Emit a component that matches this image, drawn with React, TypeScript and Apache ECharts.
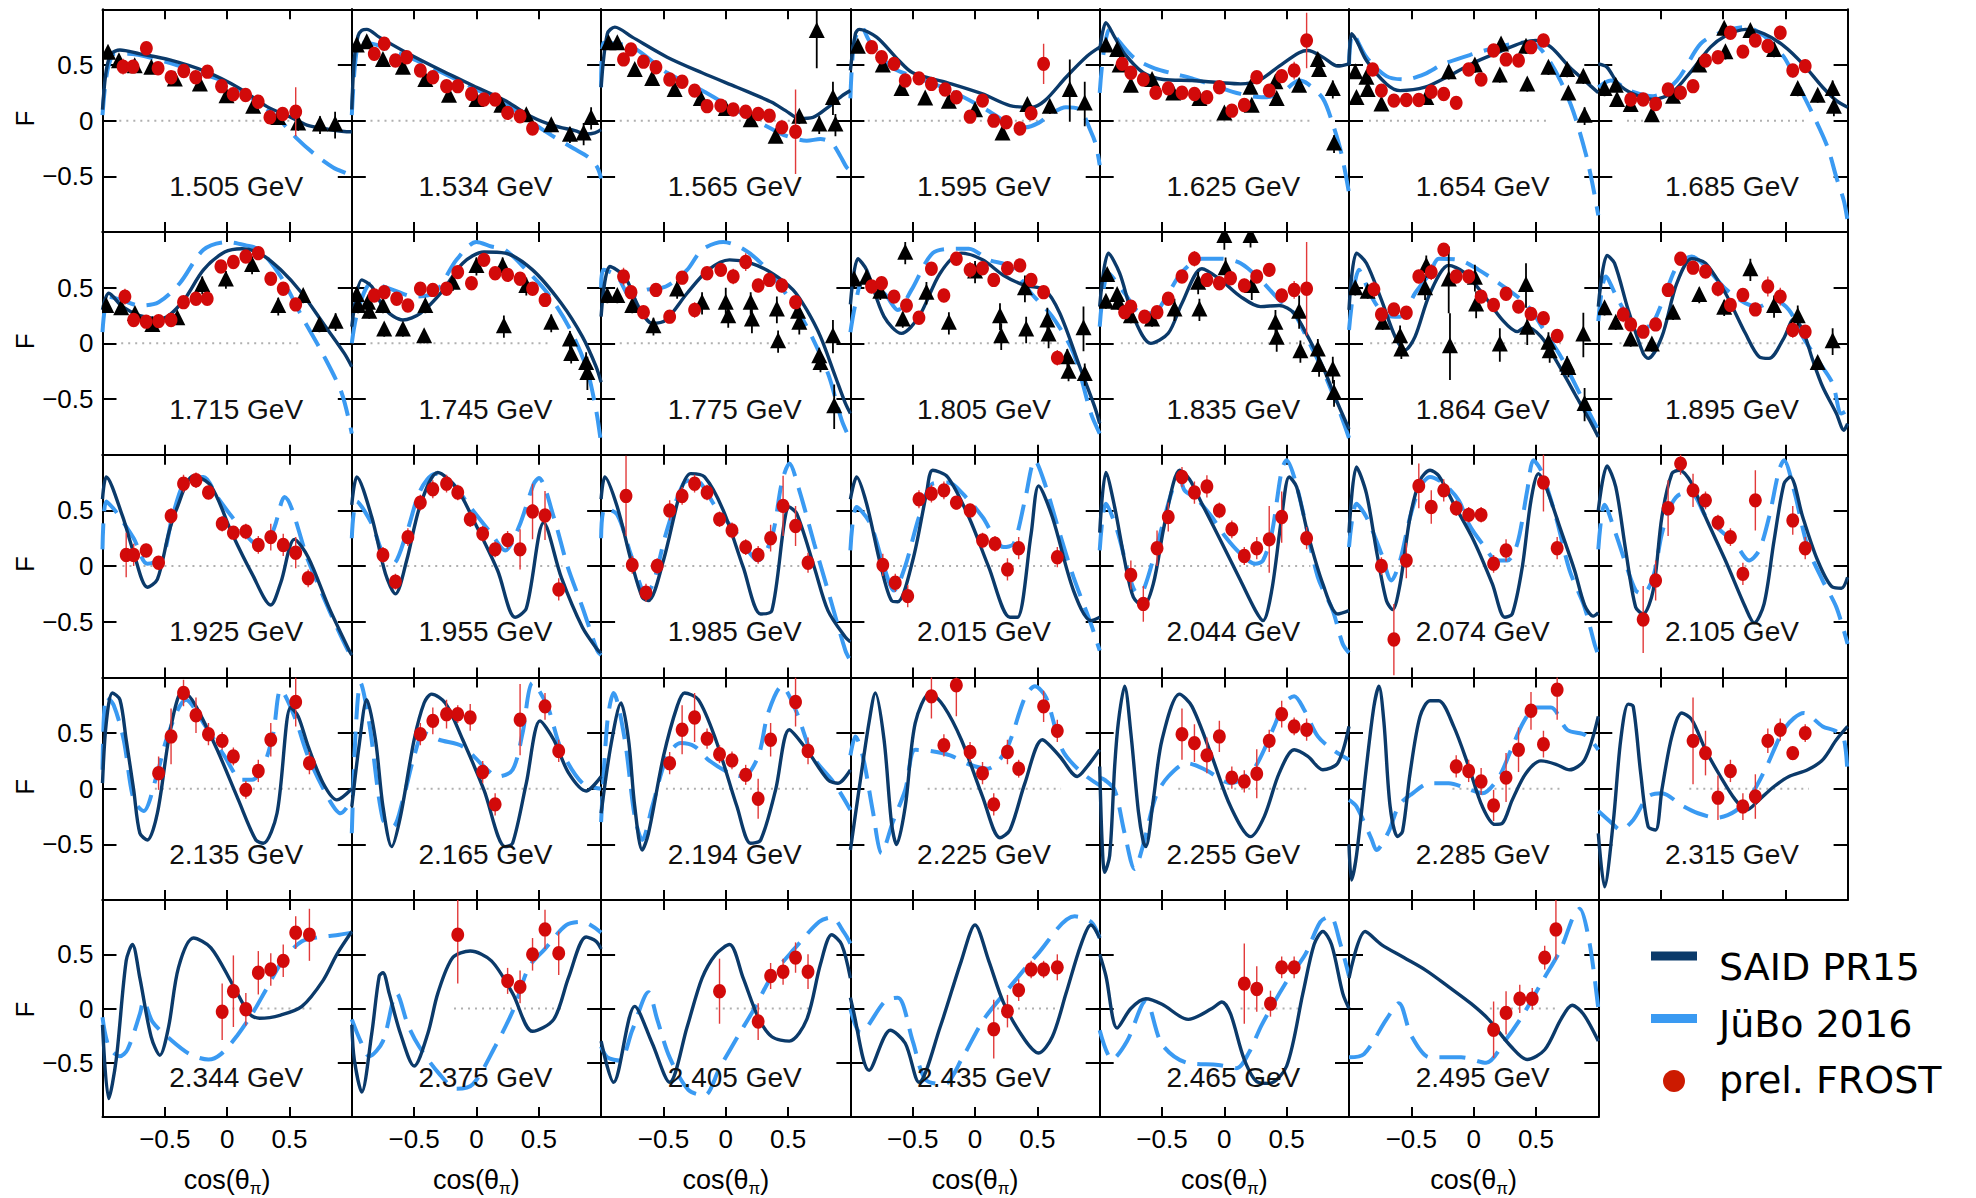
import React, { useEffect, useRef } from "react";
import * as echarts from "echarts";

// ---------------- DATA ----------------
const ENERGIES = [
  "1.505", "1.534", "1.565", "1.595", "1.625", "1.654", "1.685",
  "1.715", "1.745", "1.775", "1.805", "1.835", "1.864", "1.895",
  "1.925", "1.955", "1.985", "2.015", "2.044", "2.074", "2.105",
  "2.135", "2.165", "2.194", "2.225", "2.255", "2.285", "2.315",
  "2.344", "2.375", "2.405", "2.435", "2.465", "2.495",
];

// SAID PR15 curves [cos, F]
const SAID: number[][][] = [
  [[-1,0.1],[-0.97,0.45],[-0.93,0.6],[-0.86,0.635],[-0.7,0.6],[-0.46,0.545],[-0.17,0.44],[0.1,0.29],[0.32,0.126],[0.5,0.036],[0.64,-0.04],[0.77,-0.07],[0.99,-0.1],[1,-0.1]],
  [[-1,0.1],[-0.98,0.55],[-0.95,0.76],[-0.92,0.81],[-0.88,0.82],[-0.78,0.75],[-0.56,0.61],[-0.28,0.45],[0,0.3],[0.23,0.18],[0.45,0.03],[0.62,-0.045],[0.79,-0.09],[0.88,-0.12],[0.95,-0.11],[1,-0.08]],
  [[-1,0.3],[-0.95,0.78],[-0.89,0.84],[-0.75,0.75],[-0.47,0.57],[-0.19,0.43],[0.09,0.3],[0.26,0.22],[0.37,0.165],[0.48,0.09],[0.59,0.02],[0.7,0.03],[0.82,0.12],[0.93,0.22],[1,0.27]],
  [[-1,0.45],[-0.96,0.78],[-0.93,0.82],[-0.79,0.75],[-0.62,0.55],[-0.5,0.43],[-0.22,0.34],[0.06,0.24],[0.28,0.135],[0.45,0.12],[0.56,0.18],[0.73,0.39],[0.9,0.58],[1,0.66]],
  [[-1,0.63],[-0.95,0.88],[-0.88,0.75],[-0.8,0.6],[-0.65,0.43],[-0.49,0.37],[-0.26,0.36],[-0.03,0.34],[0.13,0.33],[0.29,0.37],[0.44,0.49],[0.6,0.61],[0.67,0.63],[0.79,0.57],[0.91,0.49],[1,0.51]],
  [[-1,0.5],[-0.98,0.78],[-0.94,0.72],[-0.86,0.54],[-0.7,0.33],[-0.59,0.27],[-0.39,0.3],[-0.2,0.4],[0,0.52],[0.19,0.61],[0.39,0.7],[0.5,0.72],[0.62,0.66],[0.77,0.48],[0.89,0.36],[1,0.25]],
  [[-1,0.51],[-0.93,0.48],[-0.84,0.33],[-0.72,0.24],[-0.56,0.19],[-0.41,0.25],[-0.25,0.45],[-0.1,0.66],[0.02,0.76],[0.18,0.82],[0.33,0.78],[0.49,0.67],[0.64,0.51],[0.8,0.3],[0.91,0.18],[1,0.12]],
  [[-1,0.3],[-0.95,0.45],[-0.84,0.33],[-0.7,0.25],[-0.53,0.22],[-0.36,0.37],[-0.19,0.66],[-0.02,0.82],[0.12,0.85],[0.26,0.81],[0.43,0.66],[0.6,0.45],[0.77,0.18],[0.94,-0.09],[1,-0.21]],
  [[-1,0.15],[-0.92,0.57],[-0.84,0.51],[-0.73,0.3],[-0.59,0.21],[-0.45,0.27],[-0.28,0.46],[-0.11,0.72],[0.06,0.82],[0.23,0.81],[0.45,0.66],[0.68,0.36],[0.85,0.06],[0.96,-0.21],[1,-0.35]],
  [[-1,0.24],[-0.93,0.69],[-0.81,0.6],[-0.7,0.33],[-0.59,0.18],[-0.48,0.21],[-0.31,0.45],[-0.14,0.66],[0.03,0.75],[0.2,0.72],[0.37,0.63],[0.54,0.48],[0.65,0.3],[0.76,0.06],[0.88,-0.3],[0.96,-0.54],[1,-0.63]],
  [[-1,0.35],[-0.94,0.76],[-0.87,0.66],[-0.73,0.24],[-0.59,0.09],[-0.45,0.24],[-0.28,0.63],[-0.11,0.81],[0.06,0.75],[0.23,0.61],[0.4,0.52],[0.56,0.48],[0.68,0.27],[0.84,-0.21],[0.96,-0.57],[1,-0.72]],
  [[-1,0.33],[-0.93,0.81],[-0.84,0.63],[-0.73,0.24],[-0.59,0.0],[-0.45,0.09],[-0.34,0.36],[-0.18,0.67],[-0.03,0.57],[0.13,0.42],[0.29,0.33],[0.44,0.34],[0.56,0.27],[0.67,0.06],[0.79,-0.21],[0.91,-0.54],[1,-0.77]],
  [[-1,0.3],[-0.94,0.81],[-0.86,0.72],[-0.74,0.39],[-0.63,0.06],[-0.55,-0.06],[-0.47,0.06],[-0.35,0.45],[-0.2,0.7],[-0.08,0.64],[0.07,0.45],[0.23,0.21],[0.35,0.105],[0.42,0.15],[0.54,0.06],[0.66,-0.15],[0.81,-0.45],[0.93,-0.69],[1,-0.84]],
  [[-1,0.33],[-0.93,0.79],[-0.87,0.72],[-0.76,0.3],[-0.64,-0.09],[-0.6,-0.135],[-0.49,0.06],[-0.37,0.54],[-0.25,0.76],[-0.14,0.72],[0.02,0.45],[0.18,0.09],[0.29,-0.12],[0.37,-0.135],[0.49,0.05],[0.57,0.22],[0.64,0.12],[0.72,-0.15],[0.8,-0.39],[0.91,-0.63],[0.97,-0.78],[1,-0.72]],
  [[-1,0.6],[-0.97,0.8],[-0.84,0.45],[-0.75,0.12],[-0.64,-0.19],[-0.56,-0.12],[-0.47,0.29],[-0.41,0.5],[-0.27,0.81],[-0.13,0.72],[0.04,0.29],[0.2,-0.07],[0.35,-0.35],[0.43,-0.15],[0.54,0.24],[0.65,0.08],[0.82,-0.38],[0.98,-0.76],[1,-0.8]],
  [[-1,0.55],[-0.96,0.8],[-0.84,0.44],[-0.73,-0.07],[-0.65,-0.25],[-0.56,0.05],[-0.45,0.55],[-0.31,0.84],[-0.16,0.7],[0,0.36],[0.17,-0.04],[0.31,-0.46],[0.4,-0.38],[0.54,0.39],[0.68,-0.1],[0.85,-0.55],[0.97,-0.75],[1,-0.78]],
  [[-1,0.6],[-0.97,0.8],[-0.87,0.53],[-0.76,0.05],[-0.67,-0.28],[-0.62,-0.31],[-0.5,0.05],[-0.36,0.68],[-0.28,0.83],[-0.17,0.8],[-0.02,0.5],[0.14,-0.01],[0.28,-0.43],[0.37,-0.4],[0.51,0.53],[0.57,0.47],[0.71,-0.01],[0.82,-0.4],[0.96,-0.64],[1,-0.68]],
  [[-1,0.6],[-0.95,0.8],[-0.87,0.56],[-0.76,0.02],[-0.67,-0.31],[-0.62,-0.32],[-0.5,0.05],[-0.39,0.65],[-0.34,0.86],[-0.22,0.8],[-0.05,0.44],[0.11,-0.01],[0.28,-0.46],[0.34,-0.46],[0.45,0.29],[0.51,0.72],[0.62,0.44],[0.79,-0.22],[0.93,-0.49],[1,-0.46]],
  [[-1,0.3],[-0.95,0.84],[-0.88,0.53],[-0.8,0.05],[-0.73,-0.28],[-0.65,-0.36],[-0.57,-0.16],[-0.49,0.32],[-0.41,0.74],[-0.36,0.86],[-0.28,0.78],[-0.18,0.56],[-0.03,0.23],[0.13,-0.13],[0.25,-0.4],[0.31,-0.49],[0.38,-0.22],[0.46,0.44],[0.52,0.8],[0.58,0.71],[0.67,0.29],[0.79,-0.16],[0.91,-0.43],[1,-0.4]],
  [[-1,0.3],[-0.94,0.89],[-0.86,0.65],[-0.78,0.14],[-0.7,-0.31],[-0.65,-0.39],[-0.59,-0.16],[-0.51,0.44],[-0.43,0.77],[-0.35,0.86],[-0.28,0.81],[-0.16,0.56],[0,0.23],[0.15,-0.16],[0.25,-0.46],[0.31,-0.43],[0.39,-0.01],[0.46,0.59],[0.52,0.83],[0.58,0.71],[0.7,0.32],[0.81,-0.04],[0.89,-0.35],[0.96,-0.45],[1,-0.42]],
  [[-1,0.5],[-0.93,0.9],[-0.86,0.71],[-0.78,0.14],[-0.7,-0.37],[-0.64,-0.43],[-0.56,-0.22],[-0.49,0.44],[-0.41,0.83],[-0.35,0.86],[-0.25,0.74],[-0.14,0.44],[0.02,0.05],[0.18,-0.37],[0.25,-0.51],[0.33,-0.34],[0.41,0.23],[0.49,0.74],[0.54,0.8],[0.64,0.44],[0.76,0.05],[0.88,-0.19],[0.95,-0.2],[1,-0.1]],
  [[-1,0.05],[-0.97,0.59],[-0.92,0.86],[-0.86,0.8],[-0.81,0.44],[-0.75,-0.01],[-0.7,-0.4],[-0.64,-0.46],[-0.56,-0.22],[-0.47,0.44],[-0.39,0.83],[-0.33,0.85],[-0.25,0.74],[-0.08,0.35],[0.09,-0.1],[0.23,-0.46],[0.29,-0.49],[0.4,-0.22],[0.51,0.73],[0.57,0.65],[0.65,0.38],[0.77,0.05],[0.88,-0.1],[1,0.0]],
  [[-1,-0.16],[-0.94,0.4],[-0.88,0.8],[-0.81,0.44],[-0.75,-0.16],[-0.68,-0.52],[-0.61,-0.25],[-0.5,0.44],[-0.42,0.77],[-0.36,0.85],[-0.25,0.77],[-0.11,0.44],[0.06,-0.01],[0.23,-0.52],[0.29,-0.49],[0.4,0.05],[0.51,0.61],[0.62,0.44],[0.74,0.14],[0.88,-0.02],[1,0.11]],
  [[-1,-0.22],[-0.92,0.4],[-0.84,0.77],[-0.78,0.44],[-0.73,-0.16],[-0.67,-0.55],[-0.62,-0.4],[-0.5,0.29],[-0.39,0.74],[-0.33,0.86],[-0.22,0.8],[-0.08,0.44],[0.09,-0.16],[0.2,-0.49],[0.28,-0.46],[0.4,-0.01],[0.51,0.53],[0.65,0.35],[0.82,0.08],[0.9,0.05],[1,0.17]],
  [[-1,-0.55],[-0.93,0.0],[-0.85,0.6],[-0.8,0.86],[-0.73,0.44],[-0.67,-0.31],[-0.63,-0.5],[-0.56,-0.16],[-0.48,0.59],[-0.36,0.86],[-0.25,0.74],[-0.11,0.44],[0.06,-0.07],[0.2,-0.44],[0.28,-0.37],[0.4,0.05],[0.54,0.44],[0.68,0.29],[0.82,0.11],[0.9,0.2],[1,0.35]],
  [[-1,0.2],[-0.98,-0.5],[-0.96,-0.75],[-0.92,-0.6],[-0.88,0.2],[-0.85,0.6],[-0.8,0.92],[-0.75,0.5],[-0.69,-0.2],[-0.65,-0.48],[-0.63,-0.52],[-0.57,-0.1],[-0.5,0.44],[-0.36,0.85],[-0.26,0.74],[-0.1,0.29],[0.05,-0.16],[0.21,-0.43],[0.32,-0.25],[0.44,0.14],[0.56,0.35],[0.67,0.29],[0.79,0.17],[0.91,0.23],[1,0.56]],
  [[-1,-0.5],[-0.98,-0.82],[-0.94,-0.6],[-0.86,0.2],[-0.8,0.74],[-0.76,0.92],[-0.72,0.6],[-0.67,-0.16],[-0.61,-0.43],[-0.57,-0.38],[-0.51,0.14],[-0.43,0.65],[-0.35,0.79],[-0.28,0.79],[-0.16,0.56],[-0.04,0.2],[0.07,-0.16],[0.17,-0.32],[0.23,-0.31],[0.31,-0.1],[0.42,0.14],[0.54,0.25],[0.66,0.22],[0.77,0.17],[0.89,0.26],[1,0.65]],
  [[-1,-0.4],[-0.95,-0.88],[-0.88,-0.3],[-0.82,0.44],[-0.76,0.76],[-0.72,0.74],[-0.66,0.14],[-0.6,-0.34],[-0.54,-0.37],[-0.49,-0.01],[-0.41,0.47],[-0.33,0.68],[-0.25,0.62],[-0.14,0.35],[-0.02,0.11],[0.1,-0.1],[0.19,-0.19],[0.29,-0.1],[0.41,0.02],[0.53,0.11],[0.68,0.17],[0.8,0.26],[0.91,0.44],[1,0.56]],
  [[-1,-0.15],[-0.95,-0.83],[-0.89,-0.47],[-0.81,0.44],[-0.76,0.59],[-0.7,0.28],[-0.61,-0.26],[-0.54,-0.43],[-0.47,-0.17],[-0.39,0.38],[-0.27,0.65],[-0.13,0.56],[0.04,0.23],[0.18,-0.05],[0.26,-0.09],[0.43,-0.06],[0.6,0.02],[0.77,0.26],[0.88,0.5],[1,0.71]],
  [[-1,-0.15],[-0.98,-0.47],[-0.92,-0.77],[-0.84,-0.23],[-0.78,0.3],[-0.75,0.33],[-0.7,0.14],[-0.61,-0.23],[-0.5,-0.53],[-0.39,-0.23],[-0.31,0.14],[-0.19,0.47],[-0.05,0.53],[0.12,0.44],[0.29,0.14],[0.45,-0.21],[0.62,-0.1],[0.74,0.29],[0.88,0.66],[0.96,0.62],[1,0.55]],
  [[-1,-0.3],[-0.9,-0.68],[-0.73,0.02],[-0.59,-0.32],[-0.45,-0.68],[-0.31,-0.17],[-0.19,0.28],[-0.08,0.5],[0.03,0.59],[0.14,0.28],[0.26,-0.08],[0.37,-0.26],[0.51,-0.3],[0.65,-0.1],[0.76,0.41],[0.85,0.68],[0.93,0.59],[1,0.28]],
  [[-1,0.1],[-0.98,0.0],[-0.85,-0.57],[-0.68,-0.2],[-0.56,-0.32],[-0.45,-0.68],[-0.28,-0.17],[-0.11,0.44],[0,0.77],[0.11,0.44],[0.23,0.05],[0.4,-0.29],[0.51,-0.41],[0.62,-0.26],[0.73,0.14],[0.85,0.59],[0.93,0.77],[1,0.65]],
  [[-1,0.5],[-0.95,0.3],[-0.86,-0.18],[-0.75,0.0],[-0.63,0.09],[-0.5,0.04],[-0.29,-0.1],[-0.1,0.0],[-0.02,0.06],[0.05,-0.05],[0.16,-0.47],[0.27,-0.68],[0.36,-0.69],[0.5,-0.53],[0.63,0.14],[0.72,0.59],[0.79,0.71],[0.86,0.59],[0.95,0.14],[1,0.0]],
  [[-1,0.28],[-0.87,0.71],[-0.74,0.59],[-0.56,0.47],[-0.38,0.35],[-0.2,0.2],[-0.02,0.045],[0.12,-0.1],[0.3,-0.35],[0.43,-0.47],[0.57,-0.38],[0.7,-0.1],[0.79,0.03],[0.88,-0.05],[1,-0.3]],
];

// JüBo 2016 curves [cos, F]
const JUBO: number[][][] = [
  [[-1,0.05],[-0.98,0.3],[-0.95,0.5],[-0.9,0.6],[-0.8,0.6],[-0.5,0.53],[-0.2,0.42],[0,0.34],[0.2,0.2],[0.4,0.03],[0.55,-0.15],[0.7,-0.3],[0.85,-0.42],[0.97,-0.48],[1,-0.5]],
  [[-1,0.05],[-0.97,0.55],[-0.93,0.7],[-0.8,0.68],[-0.5,0.55],[0,0.28],[0.3,0.1],[0.45,-0.02],[0.6,-0.13],[0.78,-0.25],[0.9,-0.33],[0.97,-0.42],[1,-0.52]],
  [[-1,0.3],[-0.98,0.7],[-0.75,0.66],[-0.47,0.43],[-0.19,0.27],[0.09,0.09],[0.37,-0.075],[0.48,-0.135],[0.65,-0.18],[0.76,-0.165],[0.85,-0.2],[0.92,-0.32],[0.97,-0.42],[1,-0.45]],
  [[-1,0.2],[-0.97,0.7],[-0.91,0.84],[-0.85,0.72],[-0.67,0.48],[-0.5,0.4],[-0.22,0.28],[0.06,0.12],[0.28,-0.03],[0.4,-0.06],[0.51,-0.02],[0.62,0.07],[0.73,0.12],[0.84,0.1],[0.93,-0.1],[0.97,-0.22],[1,-0.4]],
  [[-1,0.25],[-0.97,0.6],[-0.92,0.82],[-0.85,0.72],[-0.72,0.56],[-0.56,0.47],[-0.4,0.42],[-0.26,0.38],[-0.1,0.32],[0.13,0.24],[0.3,0.21],[0.45,0.24],[0.6,0.36],[0.67,0.33],[0.79,0.2],[0.87,-0.03],[0.94,-0.3],[1,-0.65]],
  [[-1,0.5],[-0.97,0.78],[-0.86,0.57],[-0.7,0.4],[-0.55,0.37],[-0.39,0.42],[-0.24,0.51],[0,0.6],[0.19,0.66],[0.39,0.7],[0.5,0.68],[0.6,0.55],[0.7,0.35],[0.8,0.08],[0.9,-0.3],[0.95,-0.55],[1,-0.85]],
  [[-1,0.3],[-0.9,0.36],[-0.75,0.27],[-0.56,0.22],[-0.37,0.36],[-0.18,0.69],[-0.02,0.79],[0.18,0.84],[0.33,0.76],[0.49,0.57],[0.6,0.33],[0.72,0.06],[0.84,-0.24],[0.91,-0.51],[0.97,-0.72],[1,-0.9]],
  [[-1,0.1],[-0.95,0.42],[-0.85,0.39],[-0.7,0.34],[-0.55,0.37],[-0.38,0.54],[-0.19,0.84],[0,0.91],[0.15,0.88],[0.26,0.84],[0.43,0.6],[0.6,0.24],[0.77,-0.1],[0.92,-0.45],[1,-0.81]],
  [[-1,0.0],[-0.95,0.3],[-0.84,0.54],[-0.67,0.48],[-0.5,0.42],[-0.33,0.46],[-0.16,0.75],[0,0.91],[0.12,0.87],[0.23,0.84],[0.4,0.66],[0.57,0.45],[0.74,0.15],[0.88,-0.21],[0.96,-0.6],[1,-0.9]],
  [[-1,0.5],[-0.98,0.66],[-0.87,0.6],[-0.76,0.42],[-0.64,0.48],[-0.48,0.51],[-0.31,0.66],[-0.19,0.84],[-0.02,0.91],[0.15,0.84],[0.31,0.69],[0.48,0.45],[0.65,0.15],[0.82,-0.27],[0.93,-0.69],[1,-0.87]],
  [[-1,0.1],[-0.96,0.35],[-0.9,0.55],[-0.73,0.45],[-0.62,0.3],[-0.51,0.48],[-0.34,0.81],[-0.17,0.85],[-0.05,0.85],[0.11,0.75],[0.28,0.69],[0.45,0.45],[0.62,0.24],[0.79,-0.09],[0.93,-0.63],[1,-0.81]],
  [[-1,0.15],[-0.93,0.63],[-0.8,0.45],[-0.68,0.28],[-0.57,0.27],[-0.45,0.45],[-0.34,0.64],[-0.18,0.76],[-0.03,0.76],[0.13,0.72],[0.29,0.57],[0.44,0.39],[0.56,0.27],[0.67,0.03],[0.79,-0.24],[0.91,-0.57],[1,-0.85]],
  [[-1,0.12],[-0.92,0.66],[-0.82,0.42],[-0.7,0.25],[-0.59,0.24],[-0.47,0.45],[-0.35,0.63],[-0.28,0.76],[-0.12,0.75],[0.04,0.66],[0.19,0.55],[0.35,0.42],[0.46,0.3],[0.58,0.09],[0.7,-0.12],[0.81,-0.36],[0.93,-0.63],[1,-0.78]],
  [[-1,0.2],[-0.94,0.6],[-0.84,0.39],[-0.72,0.18],[-0.6,0.15],[-0.49,0.36],[-0.37,0.69],[-0.25,0.78],[-0.14,0.69],[0.02,0.49],[0.18,0.36],[0.29,0.33],[0.41,0.39],[0.53,0.3],[0.64,0.06],[0.76,-0.15],[0.88,-0.36],[0.95,-0.63],[1,-0.6]],
  [[-1,0.15],[-0.97,0.58],[-0.9,0.5],[-0.75,0.25],[-0.64,0.02],[-0.52,0.08],[-0.44,0.44],[-0.33,0.77],[-0.19,0.8],[-0.08,0.62],[0.04,0.44],[0.2,0.22],[0.3,0.17],[0.38,0.35],[0.46,0.62],[0.65,0.05],[0.82,-0.4],[0.97,-0.76],[1,-0.8]],
  [[-1,0.25],[-0.96,0.58],[-0.84,0.38],[-0.75,0.11],[-0.67,0.02],[-0.56,0.3],[-0.45,0.68],[-0.33,0.83],[-0.19,0.74],[-0.05,0.53],[0.12,0.29],[0.23,0.14],[0.34,0.35],[0.46,0.74],[0.5,0.79],[0.62,0.44],[0.73,0.0],[0.85,-0.37],[0.97,-0.76],[1,-0.8]],
  [[-1,0.25],[-0.97,0.52],[-0.87,0.46],[-0.76,0.1],[-0.64,-0.25],[-0.58,-0.15],[-0.48,0.29],[-0.34,0.74],[-0.25,0.78],[-0.08,0.53],[0.09,0.29],[0.26,0.05],[0.37,0.26],[0.45,0.75],[0.51,0.92],[0.59,0.68],[0.71,0.2],[0.82,-0.22],[0.96,-0.76],[1,-0.85]],
  [[-1,0.14],[-0.95,0.53],[-0.84,0.38],[-0.73,-0.01],[-0.65,-0.22],[-0.56,0.0],[-0.45,0.44],[-0.34,0.74],[-0.22,0.75],[-0.05,0.59],[0.06,0.44],[0.23,0.17],[0.31,0.2],[0.4,0.59],[0.48,0.95],[0.56,0.74],[0.68,0.29],[0.79,-0.1],[0.93,-0.52],[1,-0.76]],
  [[-1,0.14],[-0.95,0.56],[-0.86,0.32],[-0.76,-0.1],[-0.7,-0.24],[-0.65,-0.22],[-0.53,0.23],[-0.41,0.71],[-0.36,0.8],[-0.32,0.68],[-0.22,0.6],[-0.1,0.44],[0.01,0.26],[0.13,0.11],[0.25,0.02],[0.31,0.05],[0.38,0.29],[0.46,0.86],[0.5,0.95],[0.56,0.8],[0.64,0.44],[0.75,-0.1],[0.87,-0.4],[0.95,-0.7],[1,-0.78]],
  [[-1,0.17],[-0.94,0.56],[-0.86,0.44],[-0.74,0.11],[-0.66,-0.13],[-0.59,0.05],[-0.51,0.44],[-0.43,0.71],[-0.35,0.8],[-0.24,0.74],[-0.12,0.59],[-0.04,0.38],[0.07,0.2],[0.19,0.05],[0.27,0.05],[0.35,0.2],[0.43,0.68],[0.48,0.95],[0.54,0.86],[0.66,0.44],[0.77,-0.04],[0.89,-0.37],[0.97,-0.7],[1,-0.8]],
  [[-1,0.15],[-0.95,0.55],[-0.86,0.29],[-0.78,0.02],[-0.7,-0.22],[-0.64,-0.25],[-0.56,-0.1],[-0.49,0.29],[-0.41,0.56],[-0.33,0.65],[-0.25,0.65],[-0.14,0.45],[-0.02,0.32],[0.1,0.2],[0.21,0.05],[0.29,0.14],[0.37,0.44],[0.45,0.86],[0.49,0.95],[0.57,0.68],[0.68,0.17],[0.8,-0.13],[0.91,-0.37],[1,-0.7]],
  [[-1,0.17],[-0.97,0.83],[-0.91,0.75],[-0.83,0.44],[-0.75,-0.1],[-0.67,-0.2],[-0.57,0.1],[-0.47,0.5],[-0.33,0.8],[-0.19,0.59],[-0.02,0.29],[0.12,0.08],[0.2,0.08],[0.29,0.2],[0.37,0.5],[0.43,0.89],[0.54,0.65],[0.65,0.29],[0.82,-0.1],[0.91,-0.22],[1,-0.1]],
  [[-1,-0.4],[-0.97,0.5],[-0.93,0.95],[-0.86,0.59],[-0.75,-0.28],[-0.67,-0.34],[-0.59,-0.1],[-0.5,0.29],[-0.42,0.5],[-0.3,0.44],[-0.11,0.38],[0.06,0.2],[0.17,0.11],[0.29,0.17],[0.37,0.5],[0.45,0.95],[0.57,0.74],[0.68,0.35],[0.85,0.05],[1,0.0]],
  [[-1,-0.3],[-0.95,0.6],[-0.9,0.86],[-0.81,0.44],[-0.73,-0.25],[-0.67,-0.46],[-0.59,-0.16],[-0.47,0.29],[-0.36,0.41],[-0.25,0.38],[-0.14,0.26],[0.03,0.14],[0.14,0.11],[0.26,0.29],[0.34,0.68],[0.45,0.92],[0.56,0.71],[0.7,0.29],[0.87,0.05],[1,-0.19]],
  [[-1,0.3],[-0.96,0.47],[-0.9,0.29],[-0.82,-0.2],[-0.75,-0.58],[-0.66,-0.3],[-0.56,-0.01],[-0.48,0.35],[-0.36,0.34],[-0.2,0.3],[-0.05,0.22],[0.1,0.18],[0.25,0.35],[0.4,0.82],[0.48,0.92],[0.57,0.82],[0.7,0.35],[0.85,0.15],[1,0.03]],
  [[-1,0.1],[-0.96,0.08],[-0.88,-0.01],[-0.8,-0.4],[-0.72,-0.72],[-0.65,-0.5],[-0.55,-0.07],[-0.45,0.11],[-0.3,0.23],[-0.15,0.17],[0.05,0.05],[0.13,0.08],[0.25,0.2],[0.4,0.56],[0.48,0.77],[0.56,0.83],[0.64,0.71],[0.75,0.47],[0.87,0.35],[1,0.26]],
  [[-1,-0.1],[-0.94,-0.16],[-0.82,-0.45],[-0.78,-0.55],[-0.68,-0.38],[-0.6,-0.15],[-0.5,-0.05],[-0.35,0.05],[-0.2,0.05],[-0.05,0.0],[0.07,-0.04],[0.2,0.1],[0.3,0.35],[0.4,0.6],[0.5,0.73],[0.62,0.73],[0.75,0.53],[0.9,0.48],[1,0.35]],
  [[-1,-0.2],[-0.9,-0.3],[-0.82,-0.37],[-0.72,-0.28],[-0.6,-0.07],[-0.49,-0.04],[-0.33,-0.15],[-0.2,-0.22],[-0.05,-0.26],[0.1,-0.2],[0.23,-0.05],[0.35,0.2],[0.5,0.55],[0.65,0.68],[0.8,0.56],[0.9,0.52],[0.97,0.45],[1,0.1]],
  [[-1,-0.08],[-0.95,-0.35],[-0.86,-0.44],[-0.8,-0.38],[-0.7,-0.05],[-0.67,0.07],[-0.6,-0.12],[-0.45,-0.29],[-0.3,-0.42],[-0.15,-0.47],[-0.05,-0.42],[0.08,-0.25],[0.2,-0.05],[0.3,0.15],[0.45,0.45],[0.6,0.62],[0.75,0.66],[0.9,0.68],[1,0.7]],
  [[-1,-0.1],[-0.93,-0.3],[-0.86,-0.44],[-0.75,-0.3],[-0.64,0.14],[-0.55,-0.15],[-0.46,-0.35],[-0.3,-0.6],[-0.16,-0.74],[-0.03,-0.7],[0.15,-0.35],[0.3,0.0],[0.42,0.38],[0.55,0.55],[0.72,0.77],[0.85,0.8],[1,0.7]],
  [[-1,-0.35],[-0.95,-0.45],[-0.85,-0.48],[-0.75,-0.2],[-0.62,0.15],[-0.55,-0.1],[-0.45,-0.45],[-0.3,-0.75],[-0.17,-0.8],[-0.05,-0.55],[0.1,-0.25],[0.23,0.0],[0.37,0.3],[0.55,0.55],[0.75,0.8],[0.85,0.84],[0.95,0.7],[1,0.6]],
  [[-1,0.0],[-0.92,-0.22],[-0.72,0.07],[-0.62,0.1],[-0.5,-0.3],[-0.4,-0.65],[-0.25,-0.7],[-0.1,-0.45],[0.07,-0.1],[0.28,0.2],[0.5,0.5],[0.8,0.85],[0.93,0.8],[1,0.65]],
  [[-1,-0.2],[-0.9,-0.47],[-0.78,-0.3],[-0.63,0.07],[-0.5,-0.33],[-0.3,-0.5],[-0.05,-0.52],[0.1,-0.55],[0.2,-0.4],[0.3,-0.15],[0.5,0.25],[0.65,0.5],[0.77,0.8],[0.85,0.85],[0.93,0.6],[1,0.3]],
  [[-1,-0.45],[-0.88,-0.42],[-0.7,-0.1],[-0.6,0.05],[-0.5,-0.25],[-0.35,-0.45],[-0.1,-0.45],[0.1,-0.5],[0.25,-0.3],[0.4,-0.05],[0.55,0.25],[0.7,0.55],[0.8,0.85],[0.85,0.92],[0.93,0.6],[1,0.0]],
];

// prel. FROST points [cos, F, error]
const FROST: number[][][] = [
  [[-0.835,0.485,0.07],[-0.755,0.485,0.04],[-0.648,0.65,0.05],[-0.554,0.47,0.03],[-0.45,0.39,0.03],[-0.348,0.446,0.03],[-0.252,0.39,0.03],[-0.158,0.44,0.03],[-0.045,0.31,0.03],[0.048,0.237,0.03],[0.148,0.23,0.03],[0.249,0.17,0.03],[0.343,0.03,0.04],[0.445,0.06,0.05],[0.55,0.08,0.22]],
  [[-0.82,0.6,0.06],[-0.74,0.69,0.04],[-0.65,0.54,0.03],[-0.56,0.57,0.03],[-0.45,0.45,0.03],[-0.35,0.39,0.03],[-0.24,0.31,0.03],[-0.15,0.31,0.03],[-0.04,0.24,0.03],[0.06,0.19,0.03],[0.15,0.19,0.03],[0.25,0.07,0.03],[0.35,0.04,0.04],[0.45,-0.07,0.04]],
  [[-0.82,0.55,0.06],[-0.76,0.64,0.05],[-0.66,0.53,0.04],[-0.56,0.48,0.04],[-0.45,0.37,0.03],[-0.35,0.35,0.03],[-0.25,0.27,0.03],[-0.15,0.13,0.03],[-0.04,0.135,0.03],[0.06,0.1,0.03],[0.16,0.08,0.03],[0.26,0.06,0.03],[0.35,0.045,0.03],[0.45,-0.06,0.05],[0.56,-0.1,0.38]],
  [[-0.83,0.66,0.04],[-0.75,0.57,0.04],[-0.65,0.51,0.04],[-0.56,0.36,0.05],[-0.45,0.38,0.04],[-0.35,0.33,0.04],[-0.24,0.28,0.04],[-0.15,0.21,0.05],[-0.04,0.036,0.05],[0.06,0.18,0.05],[0.15,0.0,0.05],[0.25,-0.015,0.06],[0.36,-0.07,0.05],[0.45,0.066,0.06],[0.55,0.51,0.18]],
  [[-0.82,0.51,0.04],[-0.75,0.43,0.05],[-0.65,0.37,0.04],[-0.55,0.25,0.04],[-0.45,0.29,0.04],[-0.34,0.25,0.04],[-0.24,0.24,0.04],[-0.14,0.21,0.04],[-0.04,0.3,0.05],[0.06,0.09,0.05],[0.16,0.14,0.05],[0.26,0.39,0.05],[0.36,0.27,0.06],[0.46,0.4,0.06],[0.56,0.45,0.08],[0.66,0.72,0.25]],
  [[-0.81,0.46,0.05],[-0.74,0.27,0.04],[-0.64,0.18,0.04],[-0.54,0.185,0.04],[-0.44,0.185,0.04],[-0.34,0.26,0.04],[-0.24,0.24,0.04],[-0.14,0.16,0.04],[-0.04,0.46,0.05],[0.06,0.37,0.05],[0.16,0.63,0.05],[0.26,0.55,0.05],[0.36,0.54,0.05],[0.46,0.66,0.06],[0.56,0.72,0.06]],
  [[-0.74,0.19,0.04],[-0.64,0.19,0.04],[-0.54,0.15,0.04],[-0.44,0.28,0.04],[-0.34,0.25,0.04],[-0.24,0.31,0.04],[-0.14,0.54,0.04],[-0.04,0.57,0.05],[0.06,0.79,0.05],[0.16,0.62,0.05],[0.26,0.72,0.05],[0.36,0.67,0.05],[0.46,0.79,0.05],[0.56,0.45,0.05],[0.66,0.49,0.06]],
  [[-0.82,0.42,0.07],[-0.75,0.21,0.04],[-0.65,0.195,0.04],[-0.55,0.2,0.04],[-0.45,0.21,0.04],[-0.35,0.37,0.04],[-0.25,0.4,0.05],[-0.16,0.4,0.05],[-0.05,0.69,0.05],[0.05,0.73,0.05],[0.15,0.78,0.05],[0.25,0.81,0.05],[0.35,0.58,0.04],[0.45,0.49,0.05],[0.55,0.35,0.05]],
  [[-0.82,0.43,0.05],[-0.74,0.46,0.05],[-0.64,0.4,0.05],[-0.55,0.34,0.05],[-0.45,0.49,0.05],[-0.35,0.48,0.05],[-0.24,0.49,0.05],[-0.15,0.64,0.05],[-0.04,0.54,0.06],[0.06,0.75,0.06],[0.15,0.63,0.05],[0.25,0.615,0.05],[0.35,0.58,0.05],[0.45,0.49,0.05],[0.55,0.39,0.05]],
  [[-0.82,0.6,0.08],[-0.76,0.46,0.06],[-0.66,0.28,0.06],[-0.56,0.48,0.06],[-0.45,0.24,0.06],[-0.35,0.59,0.06],[-0.25,0.3,0.07],[-0.15,0.63,0.06],[-0.04,0.66,0.06],[0.06,0.6,0.07],[0.16,0.73,0.08],[0.26,0.52,0.06],[0.35,0.57,0.06],[0.45,0.52,0.06],[0.56,0.37,0.06]],
  [[-0.83,0.51,0.06],[-0.75,0.54,0.06],[-0.65,0.42,0.05],[-0.55,0.34,0.05],[-0.45,0.23,0.05],[-0.35,0.67,0.06],[-0.25,0.43,0.06],[-0.15,0.76,0.05],[-0.04,0.66,0.07],[0.06,0.675,0.06],[0.15,0.57,0.06],[0.26,0.675,0.06],[0.36,0.7,0.05],[0.45,0.57,0.06],[0.55,0.46,0.06],[0.66,-0.13,0.07]],
  [[-0.8,0.28,0.05],[-0.75,0.33,0.05],[-0.64,0.24,0.05],[-0.54,0.28,0.05],[-0.45,0.4,0.05],[-0.34,0.6,0.05],[-0.24,0.76,0.07],[-0.14,0.57,0.06],[-0.04,0.54,0.06],[0.05,0.585,0.06],[0.16,0.52,0.06],[0.26,0.6,0.06],[0.36,0.66,0.06],[0.46,0.43,0.06],[0.56,0.48,0.08],[0.66,0.49,0.42]],
  [[-0.8,0.485,0.07],[-0.74,0.26,0.05],[-0.64,0.305,0.05],[-0.54,0.275,0.05],[-0.44,0.6,0.06],[-0.34,0.64,0.07],[-0.24,0.84,0.06],[-0.14,0.6,0.06],[-0.04,0.6,0.06],[0.06,0.42,0.06],[0.16,0.345,0.06],[0.26,0.445,0.06],[0.36,0.33,0.06],[0.46,0.265,0.06],[0.56,0.225,0.06],[0.67,0.066,0.06]],
  [[-0.8,0.26,0.07],[-0.74,0.17,0.06],[-0.64,0.105,0.05],[-0.54,0.17,0.05],[-0.44,0.48,0.06],[-0.34,0.76,0.05],[-0.24,0.68,0.06],[-0.14,0.645,0.06],[-0.04,0.49,0.07],[0.06,0.345,0.06],[0.16,0.435,0.06],[0.26,0.305,0.06],[0.36,0.51,0.09],[0.46,0.42,0.08],[0.56,0.12,0.07],[0.66,0.105,0.06]],
  [[-0.81,0.1,0.2],[-0.75,0.1,0.1],[-0.65,0.14,0.06],[-0.55,0.03,0.06],[-0.45,0.45,0.07],[-0.35,0.74,0.08],[-0.25,0.77,0.07],[-0.15,0.66,0.06],[-0.04,0.38,0.07],[0.05,0.3,0.06],[0.15,0.31,0.07],[0.25,0.19,0.08],[0.35,0.26,0.12],[0.45,0.19,0.1],[0.55,0.12,0.14],[0.65,-0.11,0.08]],
  [[-0.75,0.1,0.07],[-0.65,-0.14,0.07],[-0.55,0.26,0.08],[-0.45,0.57,0.07],[-0.35,0.69,0.08],[-0.24,0.74,0.08],[-0.15,0.66,0.07],[-0.05,0.42,0.07],[0.05,0.29,0.07],[0.15,0.15,0.07],[0.25,0.235,0.08],[0.35,0.15,0.18],[0.45,0.49,0.25],[0.55,0.455,0.22],[0.66,-0.21,0.1]],
  [[-0.8,0.63,0.36],[-0.75,0.01,0.08],[-0.64,-0.24,0.08],[-0.55,0.0,0.07],[-0.45,0.5,0.09],[-0.35,0.63,0.08],[-0.25,0.74,0.08],[-0.15,0.66,0.07],[-0.05,0.42,0.07],[0.05,0.32,0.07],[0.16,0.17,0.07],[0.26,0.1,0.08],[0.36,0.25,0.12],[0.46,0.54,0.27],[0.56,0.36,0.18],[0.66,0.03,0.09]],
  [[-0.74,0.01,0.1],[-0.64,-0.15,0.08],[-0.54,-0.27,0.1],[-0.45,0.6,0.08],[-0.35,0.65,0.08],[-0.25,0.68,0.08],[-0.15,0.57,0.06],[-0.04,0.5,0.06],[0.06,0.23,0.07],[0.16,0.2,0.07],[0.26,-0.03,0.1],[0.35,0.16,0.1],[0.66,0.08,0.09]],
  [[-0.75,-0.08,0.13],[-0.65,-0.34,0.16],[-0.54,0.16,0.16],[-0.45,0.44,0.13],[-0.34,0.8,0.09],[-0.24,0.66,0.1],[-0.14,0.715,0.1],[-0.04,0.5,0.07],[0.06,0.33,0.08],[0.16,0.09,0.08],[0.26,0.16,0.1],[0.36,0.24,0.3],[0.46,0.44,0.23],[0.66,0.25,0.1]],
  [[-0.74,0.0,0.08],[-0.64,-0.66,0.32],[-0.54,0.05,0.16],[-0.44,0.72,0.2],[-0.34,0.53,0.15],[-0.24,0.68,0.1],[-0.14,0.52,0.07],[-0.04,0.46,0.07],[0.06,0.46,0.07],[0.16,0.02,0.08],[0.26,0.14,0.1],[0.56,0.75,0.26],[0.67,0.16,0.1]],
  [[-0.64,-0.48,0.3],[-0.54,-0.13,0.18],[-0.44,0.52,0.25],[-0.34,0.92,0.1],[-0.24,0.68,0.15],[-0.14,0.59,0.08],[-0.04,0.39,0.07],[0.06,0.26,0.08],[0.16,-0.07,0.1],[0.26,0.59,0.27],[0.56,0.41,0.13],[0.66,0.16,0.1]],
  [[-0.55,0.14,0.15],[-0.45,0.47,0.25],[-0.35,0.86,0.12],[-0.25,0.66,0.16],[-0.15,0.49,0.1],[-0.04,0.43,0.08],[0.05,0.29,0.08],[0.15,-0.01,0.08],[0.25,0.16,0.1],[0.35,0.44,0.15],[0.55,0.78,0.22],[0.66,0.23,0.1]],
  [[-0.45,0.49,0.1],[-0.35,0.61,0.12],[-0.24,0.67,0.13],[-0.15,0.67,0.08],[-0.05,0.64,0.12],[0.05,0.15,0.1],[0.15,-0.14,0.1],[0.35,0.62,0.32],[0.55,0.74,0.12],[0.66,0.34,0.1]],
  [[-0.45,0.23,0.1],[-0.35,0.53,0.22],[-0.25,0.64,0.22],[-0.15,0.45,0.09],[-0.05,0.31,0.08],[0.05,0.255,0.08],[0.16,0.125,0.09],[0.26,-0.09,0.18],[0.36,0.44,0.15],[0.56,0.78,0.22],[0.66,0.34,0.12]],
  [[-0.35,0.83,0.2],[-0.25,0.39,0.1],[-0.15,0.93,0.28],[-0.04,0.33,0.09],[0.06,0.14,0.1],[0.15,-0.14,0.1],[0.26,0.33,0.11],[0.35,0.18,0.08],[0.55,0.74,0.14],[0.66,0.52,0.1]],
  [[-0.34,0.49,0.23],[-0.24,0.41,0.17],[-0.14,0.3,0.16],[-0.04,0.47,0.14],[0.06,0.1,0.1],[0.16,0.066,0.1],[0.26,0.135,0.22],[0.36,0.43,0.1],[0.46,0.67,0.12],[0.56,0.56,0.08],[0.66,0.53,0.1]],
  [[-0.14,0.2,0.1],[-0.04,0.16,0.1],[0.06,0.066,0.12],[0.16,-0.15,0.14],[0.26,0.1,0.22],[0.36,0.35,0.2],[0.46,0.7,0.17],[0.56,0.4,0.12],[0.67,0.89,0.27]],
  [[-0.24,0.43,0.39],[-0.14,0.32,0.2],[-0.04,-0.08,0.2],[0.06,0.16,0.1],[0.16,-0.16,0.12],[0.26,-0.07,0.2],[0.36,0.43,0.11],[0.46,0.53,0.1],[0.56,0.32,0.06],[0.66,0.5,0.08]],
  [[-0.04,-0.03,0.26],[0.05,0.16,0.33],[0.15,-0.006,0.15],[0.25,0.33,0.2],[0.35,0.36,0.15],[0.45,0.44,0.15],[0.55,0.7,0.15],[0.66,0.68,0.24]],
  [[-0.15,0.68,0.45],[0.25,0.255,0.12],[0.35,0.2,0.15],[0.45,0.5,0.15],[0.55,0.73,0.18],[0.66,0.51,0.2]],
  [[-0.05,0.16,0.3],[0.26,-0.12,0.17],[0.36,0.3,0.12],[0.46,0.34,0.12],[0.56,0.47,0.14],[0.66,0.34,0.16]],
  [[0.15,-0.19,0.27],[0.26,-0.024,0.15],[0.35,0.17,0.1],[0.45,0.36,0.08],[0.55,0.36,0.08],[0.66,0.38,0.12]],
  [[0.16,0.23,0.37],[0.26,0.18,0.21],[0.37,0.045,0.12],[0.46,0.38,0.1],[0.56,0.38,0.1]],
  [[0.16,-0.195,0.26],[0.26,-0.04,0.2],[0.37,0.09,0.13],[0.47,0.09,0.1],[0.57,0.47,0.11],[0.66,0.73,0.28]],
];

// earlier data (black triangles), only for the first 14 energies [cos, F, error]
const TRIANGLES: number[][][] = [
  [[-0.956,0.605,0.04],[-0.868,0.53,0.04],[-0.742,0.485,0.04],[-0.608,0.47,0.04],[-0.42,0.365,0.04],[-0.219,0.32,0.04],[-0.005,0.215,0.04],[0.209,0.12,0.04],[0.41,0.02,0.05],[0.57,-0.03,0.06],[0.745,-0.04,0.08],[0.866,-0.04,0.12]],
  [[-0.96,0.67,0.04],[-0.88,0.7,0.04],[-0.75,0.54,0.04],[-0.59,0.47,0.04],[-0.41,0.36,0.04],[-0.22,0.22,0.04],[0.0,0.18,0.04],[0.2,0.13,0.04],[0.4,0.045,0.05],[0.6,-0.045,0.06],[0.75,-0.13,0.07],[0.86,-0.12,0.1],[0.92,0.02,0.1]],
  [[-0.94,0.69,0.04],[-0.87,0.69,0.04],[-0.73,0.45,0.05],[-0.59,0.37,0.05],[-0.41,0.27,0.05],[-0.2,0.19,0.05],[0.0,0.1,0.05],[0.2,0.0,0.05],[0.4,-0.15,0.05],[0.59,0.03,0.06],[0.73,0.8,0.33],[0.75,-0.04,0.08],[0.86,0.2,0.15],[0.88,-0.04,0.1]],
  [[-0.94,0.66,0.05],[-0.74,0.49,0.05],[-0.59,0.28,0.05],[-0.4,0.195,0.05],[-0.21,0.165,0.05],[0.0,0.09,0.05],[0.22,-0.12,0.05],[0.42,0.135,0.05],[0.6,0.12,0.06],[0.76,0.27,0.28],[0.88,0.15,0.2]],
  [[-0.95,0.67,0.05],[-0.86,0.63,0.05],[-0.84,0.49,0.05],[-0.75,0.31,0.05],[-0.58,0.36,0.05],[-0.41,0.24,0.05],[-0.2,0.19,0.05],[0.0,0.06,0.05],[0.21,0.29,0.05],[0.22,0.13,0.05],[0.41,0.34,0.05],[0.42,0.19,0.05],[0.6,0.31,0.05],[0.75,0.54,0.05],[0.76,0.45,0.05],[0.87,0.28,0.08],[0.88,-0.21,0.08]],
  [[-0.95,0.43,0.05],[-0.94,0.2,0.05],[-0.86,0.38,0.05],[-0.85,0.27,0.05],[-0.74,0.14,0.05],[-0.38,0.2,0.05],[-0.2,0.43,0.06],[0.01,0.49,0.06],[0.21,0.4,0.06],[0.22,0.68,0.06],[0.42,0.66,0.06],[0.43,0.32,0.06],[0.6,0.47,0.06],[0.75,0.45,0.06],[0.76,0.24,0.06],[0.88,0.39,0.06],[0.89,0.04,0.08]],
  [[-0.95,0.28,0.06],[-0.86,0.31,0.05],[-0.85,0.18,0.05],[-0.74,0.135,0.05],[-0.57,0.045,0.05],[-0.4,0.21,0.05],[-0.19,0.49,0.05],[0.01,0.82,0.06],[0.02,0.61,0.06],[0.22,0.8,0.06],[0.41,0.63,0.06],[0.6,0.28,0.06],[0.76,0.22,0.06],[0.88,0.28,0.08],[0.89,0.12,0.08]],
  [[-0.97,0.33,0.05],[-0.85,0.31,0.05],[-0.74,0.26,0.05],[-0.6,0.16,0.05],[-0.4,0.22,0.05],[-0.2,0.52,0.08],[-0.01,0.57,0.08],[0.2,0.7,0.08],[0.41,0.33,0.08],[0.61,0.42,0.06],[0.74,0.16,0.06],[0.87,0.19,0.08]],
  [[-0.96,0.43,0.06],[-0.95,0.33,0.06],[-0.87,0.36,0.06],[-0.86,0.28,0.06],[-0.75,0.33,0.06],[-0.74,0.12,0.06],[-0.59,0.12,0.06],[-0.42,0.06,0.06],[-0.41,0.33,0.06],[-0.19,0.54,0.07],[0.0,0.69,0.08],[0.21,0.69,0.08],[0.22,0.15,0.1],[0.4,0.51,0.08],[0.6,0.18,0.08],[0.75,0.03,0.08],[0.76,-0.1,0.08],[0.88,-0.18,0.1],[0.89,-0.27,0.15]],
  [[-0.95,0.42,0.06],[-0.87,0.42,0.06],[-0.75,0.33,0.06],[-0.58,0.15,0.08],[-0.39,0.48,0.08],[-0.19,0.36,0.1],[0.0,0.36,0.14],[0.02,0.24,0.1],[0.2,0.36,0.1],[0.21,0.21,0.12],[0.41,0.3,0.12],[0.42,0.015,0.1],[0.58,0.28,0.1],[0.59,0.18,0.1],[0.75,-0.12,0.08],[0.76,-0.18,0.08],[0.86,0.06,0.15],[0.87,-0.57,0.2]],
  [[-0.97,0.57,0.07],[-0.87,0.585,0.07],[-0.76,0.46,0.07],[-0.58,0.21,0.07],[-0.56,0.81,0.1],[-0.39,0.45,0.1],[-0.21,0.18,0.1],[0.0,0.64,0.1],[0.2,0.24,0.12],[0.21,0.06,0.12],[0.4,0.49,0.12],[0.41,0.12,0.12],[0.58,0.2,0.12],[0.59,0.075,0.12],[0.74,-0.13,0.08],[0.75,-0.26,0.08],[0.87,0.13,0.2],[0.88,-0.28,0.1]],
  [[-0.95,0.37,0.06],[-0.94,0.61,0.06],[-0.86,0.43,0.06],[-0.85,0.36,0.06],[-0.75,0.24,0.06],[-0.58,0.21,0.06],[-0.4,0.3,0.1],[-0.21,0.54,0.1],[-0.2,0.3,0.1],[0.0,0.96,0.12],[0.01,0.67,0.1],[0.21,0.96,0.1],[0.22,0.51,0.12],[0.41,0.18,0.12],[0.42,0.045,0.12],[0.6,0.28,0.15],[0.61,-0.075,0.1],[0.75,-0.06,0.1],[0.76,-0.2,0.1],[0.87,-0.24,0.12],[0.88,-0.45,0.12]],
  [[-0.95,0.49,0.06],[-0.85,0.46,0.06],[-0.73,0.18,0.06],[-0.59,0.06,0.1],[-0.58,-0.06,0.08],[-0.39,0.49,0.1],[-0.38,0.69,0.1],[-0.2,0.57,0.3],[-0.19,-0.03,0.3],[0.01,0.585,0.12],[0.02,0.345,0.12],[0.21,-0.015,0.15],[0.42,0.52,0.2],[0.43,0.135,0.15],[0.6,0.0,0.1],[0.61,-0.075,0.1],[0.75,-0.195,0.08],[0.76,-0.225,0.08],[0.88,0.075,0.2],[0.89,-0.55,0.15]],
  [[-0.95,0.31,0.06],[-0.86,0.18,0.06],[-0.74,0.03,0.06],[-0.57,-0.015,0.06],[-0.4,0.27,0.06],[-0.19,0.43,0.07],[0.01,0.315,0.07],[0.22,0.66,0.1],[0.41,0.33,0.1],[0.6,0.24,0.1],[0.76,-0.18,0.06],[0.88,0.015,0.12]],
];

const LEGEND_ITEMS = ["SAID PR15", "JüBo 2016", "prel. FROST"];

// ---------------- STYLE / LAYOUT ----------------
const W = 1976;
const H = 1198;
const LEFT = 102.5;
const TOP = 9.3;
const PW = 249.3;
const PH = 222.7;
const COLS = 7;
const SAID_COLOR = "#0b3a6a";
const JUBO_COLOR = "#3a9af2";
const RED = "#d20a0a";
const FONT = '"Liberation Sans", Arial, Helvetica, sans-serif';
const LEGEND_FONT = '"DejaVu Sans", sans-serif';

const fmt = (v: number) => {
  if (Math.abs(v) > 0.99) return "";
  if (v < 0) return "\u2212" + String(-v);
  return String(v);
};

export default function App() {
  const ref = useRef<HTMLDivElement>(null);

  useEffect(() => {
    if (!ref.current) return;
    const chart = echarts.init(ref.current, null, { renderer: "svg" });

    const grid: any[] = [];
    const xAxis: any[] = [];
    const yAxis: any[] = [];
    const series: any[] = [];
    const graphic: any[] = [];

    const lineStyle = { color: "#000", width: 2 };

    ENERGIES.forEach((e, i) => {
      const r = Math.floor(i / COLS);
      const c = i % COLS;
      const left = LEFT + c * PW;
      const top = TOP + r * PH;
      grid.push({ left, top, width: PW, height: PH, containLabel: false });
      const labeledX = r === 4;
      const labeledY = c === 0;

      const xBase = {
        gridIndex: i, type: "value", min: -1, max: 1, interval: 0.5,
        splitLine: { show: false },
        axisLine: { show: true, onZero: false, lineStyle },
        axisTick: { show: true, inside: true, length: 10, lineStyle },
      };
      xAxis.push({
        ...xBase, position: "bottom",
        axisLabel: { show: labeledX, formatter: fmt, fontSize: 26, color: "#000", fontFamily: FONT, margin: 9 },
        name: labeledX ? "{a|cos(\u03b8}{s|\u03c0}{a|)}" : "",
        nameLocation: "middle",
        nameGap: 46,
        nameTextStyle: {
          color: "#000",
          rich: {
            a: { fontSize: 27, fontFamily: FONT, color: "#000", lineHeight: 34 },
            s: { fontSize: 17, fontFamily: FONT, color: "#000", lineHeight: 17, verticalAlign: "bottom" },
          },
        },
      });
      xAxis.push({ ...xBase, position: "top", axisLabel: { show: false } });

      const yBase = {
        gridIndex: i, type: "value", min: -1, max: 1, interval: 0.5,
        splitLine: { show: false },
        axisLine: { show: true, onZero: false, lineStyle },
        axisTick: { show: true, inside: true, length: 14, lineStyle },
      };
      yAxis.push({
        ...yBase, position: "left",
        axisLabel: { show: labeledY, formatter: fmt, fontSize: 26, color: "#000", fontFamily: FONT, margin: 9 },
      });
      yAxis.push({ ...yBase, position: "right", axisLabel: { show: false } });

      const xi = 2 * i;
      const pts = FROST[i];
      const xs = pts.map((p) => p[0]);
      series.push({
        type: "line", xAxisIndex: xi, yAxisIndex: xi, symbol: "none", silent: true, z: 1,
        data: [[Math.min(...xs) - 0.03, 0], [Math.max(...xs) + 0.03, 0]],
        lineStyle: { color: "#b0b0b0", width: 2, type: [2, 5] },
      });
      series.push({
        type: "line", xAxisIndex: xi, yAxisIndex: xi, symbol: "none", silent: true, z: 2,
        smooth: 0.3, data: JUBO[i],
        lineStyle: { color: JUBO_COLOR, width: 4, type: [26, 12] },
      });
      series.push({
        type: "line", xAxisIndex: xi, yAxisIndex: xi, symbol: "none", silent: true, z: 3,
        smooth: 0.3, data: SAID[i],
        lineStyle: { color: SAID_COLOR, width: 3.4 },
      });
      if (TRIANGLES[i]) {
        series.push({
          type: "custom", xAxisIndex: xi, yAxisIndex: xi, z: 4, clip: true, silent: true,
          data: TRIANGLES[i], encode: { x: 0, y: 1 },
          renderItem: (_p: any, api: any) => {
            const x = api.value(0), y = api.value(1), er = api.value(2);
            const cpt = api.coord([x, y]);
            const hi = api.coord([x, y + er]);
            const lo = api.coord([x, y - er]);
            return {
              type: "group",
              children: [
                { type: "line", shape: { x1: cpt[0], y1: hi[1], x2: cpt[0], y2: lo[1] }, style: { stroke: "#000", lineWidth: 1.8 } },
                { type: "polygon", shape: { points: [[cpt[0], cpt[1] - 9.5], [cpt[0] - 8, cpt[1] + 6.5], [cpt[0] + 8, cpt[1] + 6.5]] }, style: { fill: "#000" } },
              ],
            };
          },
        });
      }
      series.push({
        type: "custom", xAxisIndex: xi, yAxisIndex: xi, z: 5, clip: true, silent: true,
        data: pts, encode: { x: 0, y: 1 },
        renderItem: (_p: any, api: any) => {
          const x = api.value(0), y = api.value(1), er = api.value(2);
          const cpt = api.coord([x, y]);
          const hi = api.coord([x, y + er]);
          const lo = api.coord([x, y - er]);
          return {
            type: "group",
            children: [
              { type: "line", shape: { x1: cpt[0], y1: hi[1], x2: cpt[0], y2: lo[1] }, style: { stroke: "#e23a3a", lineWidth: 1.4 } },
              { type: "ellipse", shape: { cx: cpt[0], cy: cpt[1], rx: 6.4, ry: 7.2 }, style: { fill: RED } },
            ],
          };
        },
      });

      graphic.push({
        type: "text", x: left + PW / 2 + 9, y: top + 177, z: 20,
        style: {
          text: `${e} GeV`, font: `28px ${FONT}`, fill: "#111",
          align: "center", verticalAlign: "middle", textAlign: "center", textVerticalAlign: "middle",
        },
      });
    });

    for (let r = 0; r < 5; r++) {
      graphic.push({
        type: "text", x: 25, y: TOP + r * PH + PH / 2 - 2, rotation: Math.PI / 2, z: 20,
        style: {
          text: "F", font: `26px ${FONT}`, fill: "#000",
          align: "center", verticalAlign: "middle", textAlign: "center", textVerticalAlign: "middle",
        },
      });
    }

    // legend
    const legY = [956, 1018.5, 1081];
    graphic.push({ type: "rect", shape: { x: 1651, y: legY[0] - 4.5, width: 46, height: 9 }, style: { fill: SAID_COLOR }, z: 20 });
    graphic.push({ type: "rect", shape: { x: 1651, y: legY[1] - 4.5, width: 46, height: 9 }, style: { fill: JUBO_COLOR }, z: 20 });
    graphic.push({ type: "ellipse", shape: { cx: 1674, cy: legY[2], rx: 11, ry: 11 }, style: { fill: "#cc1a00" }, z: 20 });
    const textY = [966.5, 1023.5, 1079.5];
    LEGEND_ITEMS.forEach((t, k) => {
      graphic.push({
        type: "text", x: 1719, y: textY[k], z: 20,
        style: { text: t, font: `38px ${LEGEND_FONT}`, fill: "#000", align: "left", verticalAlign: "middle", textAlign: "left", textVerticalAlign: "middle" },
      });
    });

    chart.setOption({
      animation: false,
      backgroundColor: "#fff",
      grid, xAxis, yAxis, series, graphic,
    });

    return () => chart.dispose();
  }, []);

  return <div ref={ref} style={{ position: "absolute", left: 0, top: 0, width: W, height: H }} />;
}
